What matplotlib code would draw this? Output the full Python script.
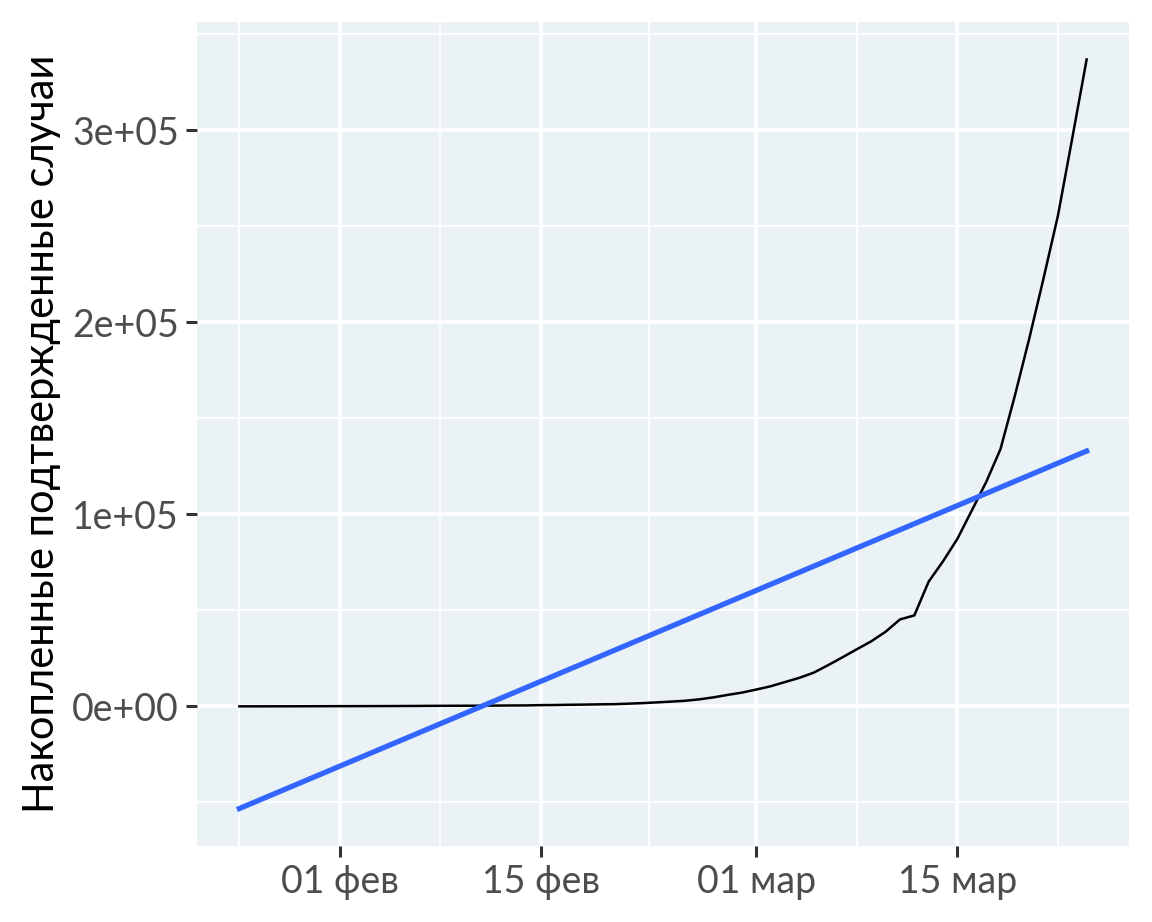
import numpy as np
import matplotlib
matplotlib.use("Agg")
import matplotlib.pyplot as plt
import matplotlib.dates as mdates
import datetime as dt

# Data: cumulative confirmed cases (outside mainland China), Jan 25 - Mar 24, 2020
start_date = "2020-01-25"
cases = [28, 43, 50, 64, 76, 99, 118, 138, 154, 165, 189, 213, 242, 284, 319, 345,
         372, 393, 441, 492, 523, 680, 730, 860, 940, 1070, 1150, 1400, 1700, 2070,
         2470, 2920, 3660, 4700, 6000, 7200, 8800, 10500, 12700, 14900, 17600, 21500,
         25600, 29800, 33900, 38900, 45300, 47400, 65000, 75600, 87300, 102000, 116800,
         134000, 161800, 191500, 223000, 255600, 296000, 337000]
x_ticks = ["2020-02-01", "2020-02-15", "2020-03-01", "2020-03-15"]
x_tick_labels = ["01 фев", "15 фев", "01 мар", "15 мар"]
x_minor = ["2020-01-25", "2020-02-08", "2020-02-22 12:00", "2020-03-08", "2020-03-22"]
y_ticks = [0, 100000, 200000, 300000]
y_tick_labels = ["0e+00", "1e+05", "2e+05", "3e+05"]
y_minor = [-50000, 50000, 150000, 250000, 350000]
y_label = "Накопленные подтвержденные случаи"

dates = np.array([np.datetime64(start_date) + np.timedelta64(i, "D") for i in range(len(cases))])
xnum = mdates.date2num(dates.astype("datetime64[D]").astype(dt.datetime))
y = np.array(cases, dtype=float)
coef = np.polyfit(xnum, y, 1)
fit = np.polyval(coef, xnum)

W, H = 1152, 922
fig = plt.figure(figsize=(W / 100, H / 100), dpi=100)
ax = fig.add_axes([197 / W, 1 - 846 / H, (1129 - 197) / W, (846 - 22) / H])
bg = "#EAF2F5"
ax.set_facecolor(bg)
for s in ax.spines.values():
    s.set_visible(False)

def dnum(s):
    return mdates.date2num(np.datetime64(s).astype("datetime64[m]").astype(dt.datetime))

for v in x_minor:
    ax.axvline(dnum(v), color="white", lw=1.3, zorder=0)
for v in x_ticks:
    ax.axvline(dnum(v), color="white", lw=2.6, zorder=0)
for v in y_minor:
    ax.axhline(v, color="white", lw=1.3, zorder=0)
for v in y_ticks:
    ax.axhline(v, color="white", lw=2.6, zorder=0)

ax.plot(xnum, y, color="black", lw=1.8, zorder=3)
ax.plot(xnum, fit, color="#3366FF", lw=3.8, zorder=4)

span = xnum[-1] - xnum[0]
ax.set_xlim(xnum[0] - 0.05 * span, xnum[-1] + 0.05 * span)
ymin = min(y.min(), fit.min()); ymax = max(y.max(), fit.max())
yr = ymax - ymin
ax.set_ylim(ymin - 0.05 * yr, ymax + 0.05 * yr)

ax.set_xticks([dnum(v) for v in x_ticks])
ax.set_xticklabels(x_tick_labels, family=["Lato", "DejaVu Sans"], fontsize=27, color="#4D4D4D")
ax.set_yticks(y_ticks)
ax.set_yticklabels(y_tick_labels, family=["Lato", "DejaVu Sans"], fontsize=27, color="#4D4D4D")
ax.tick_params(axis="both", length=8, width=2.2, color="#333333", pad=5)
ax.set_ylabel(y_label, family=["Lato", "DejaVu Sans"], fontsize=30, color="black", labelpad=8)

fig.savefig("out.png", dpi=100, facecolor="white")
